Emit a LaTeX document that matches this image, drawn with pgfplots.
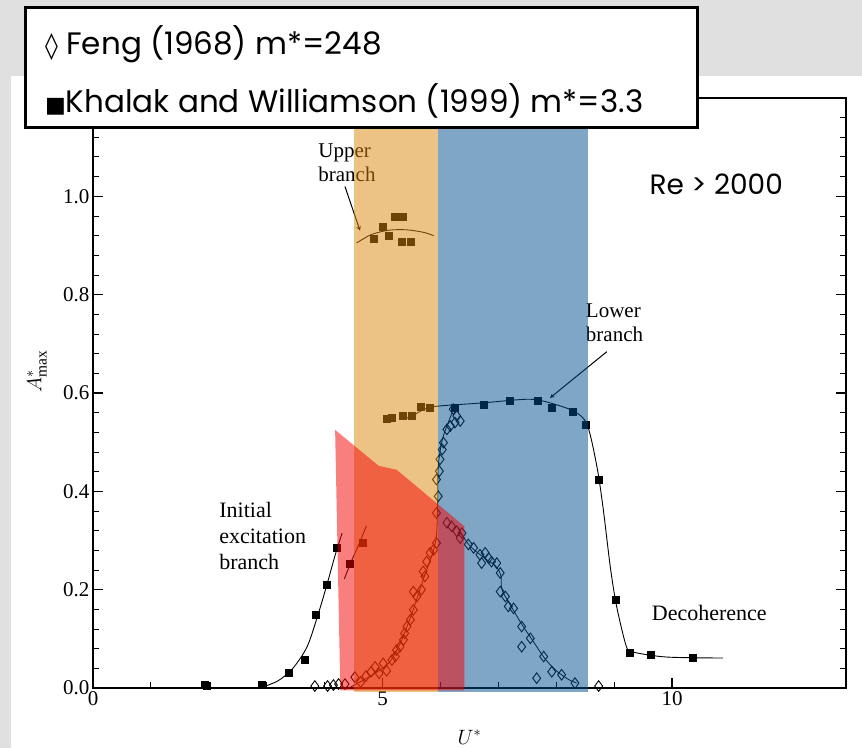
\documentclass[border=0pt]{standalone}
\usepackage{pgfplots}
\pgfplotsset{compat=1.18}
\usepackage{fontspec}
\setmainfont{Liberation Serif}
\newfontfamily\gothic{Poppins}
\newfontfamily\dejavu{DejaVu Sans}
\definecolor{bggray}{RGB}{224,224,224}
\definecolor{bandorange}{RGB}{218,136,10}
\definecolor{bandblue}{RGB}{0,78,138}
\definecolor{bandred}{RGB}{245,0,0}
\begin{document}
\begin{tikzpicture}
\fill[bggray] (0pt,0pt) rectangle (862pt,748pt);
\fill[white] (11pt,0pt) rectangle (862pt,672pt);
\begin{axis}[
  at={(93pt,60pt)}, anchor=south west, scale only axis,
  width=753pt, height=590pt,
  xmin=0, xmax=13, ymin=0, ymax=1.2,
  xtick={0,5,10}, ytick={0,0.2,0.4,0.6,0.8,1.0,1.2},
  yticklabels={0.0,0.2,0.4,0.6,0.8,1.0,{}},
  minor x tick num=4, minor y tick num=4,
  tick align=inside, major tick length=10pt, minor tick length=6pt,
  axis line style={line width=2.5pt},
  major tick style={line width=1.6pt, black},
  minor tick style={line width=1pt, black},
  /pgf/number format/assume math mode=true,
  tick label style={font=\fontsize{21}{24}\selectfont},
  xlabel={$U^*$}, ylabel={$A^*_{\max}$},
  xlabel style={at={(axis description cs:0.5,-0.083)}, anchor=center, font=\fontsize{22}{24}\selectfont},
  ylabel style={at={(axis description cs:-0.0744,0.536)}, anchor=center, font=\fontsize{22}{24}\selectfont},
  clip=false,
]
% Feng (1968) open diamonds
\addplot[only marks, mark=diamond, mark size=5.3pt, mark options={line width=0.9pt, black}] coordinates {
(3.83,0.004) (4.05,0.004) (4.15,0.006) (4.24,0.008) (4.35,0.008) (4.52,0.022) (4.62,0.012)
(4.71,0.024) (4.80,0.033) (4.87,0.043) (4.94,0.030) (5.01,0.050) (5.07,0.035) (5.16,0.057)
(5.22,0.064) (5.24,0.077) (5.30,0.084) (5.36,0.098) (5.38,0.111) (5.42,0.125) (5.48,0.139)
(5.53,0.159) (5.59,0.186) (5.53,0.196) (5.67,0.200) (5.73,0.227) (5.70,0.237) (5.76,0.257)
(5.82,0.275) (5.88,0.281) (5.93,0.295)
(5.93,0.356) (5.96,0.390) (5.93,0.424) (5.98,0.441) (5.99,0.465) (6.03,0.485) (6.05,0.499)
(6.11,0.526) (6.17,0.533) (6.25,0.540) (6.34,0.543) (6.28,0.553) (6.22,0.567)
(6.11,0.336) (6.19,0.329) (6.28,0.319) (6.37,0.315) (6.34,0.305) (6.48,0.292) (6.57,0.285)
(6.68,0.271) (6.77,0.275) (6.71,0.254) (6.83,0.264) (6.88,0.257) (6.97,0.254) (7.03,0.234)
(7.03,0.196) (7.12,0.186) (7.17,0.166) (7.26,0.162) (7.40,0.125) (7.55,0.101) (7.40,0.084)
(7.78,0.064) (7.66,0.020) (7.92,0.033) (8.09,0.027) (8.32,0.010) (8.73,0.004)
};
% Feng curves
\addplot[black, line width=0.8pt, smooth, tension=0.5] coordinates {
(4.45,0.002) (4.8,0.025) (5.1,0.05) (5.3,0.09) (5.5,0.15) (5.7,0.22) (5.85,0.27) (5.93,0.31)
(5.95,0.38) (5.96,0.45) (6.02,0.50) (6.10,0.53) (6.20,0.56)
};
\addplot[black, line width=0.8pt, smooth, tension=0.5] coordinates {
(6.3,0.325) (6.5,0.29) (6.75,0.265) (6.95,0.248) (7.04,0.23) (7.06,0.20) (7.2,0.17) (7.4,0.13)
(7.6,0.095) (7.8,0.06) (8.0,0.035) (8.2,0.018) (8.35,0.01)
};
% Khalak & Williamson filled squares
\addplot[only marks, mark=square*, mark size=3.5pt, black] coordinates {
(1.93,0.006) (1.97,0.004) (2.91,0.006) (3.38,0.031) (3.65,0.057) (3.85,0.149) (4.03,0.210)
(4.21,0.285) (4.43,0.253) (4.66,0.296)
(4.84,0.913) (5.00,0.938) (5.10,0.920) (5.20,0.958) (5.34,0.958) (5.33,0.907) (5.49,0.907)
(5.07,0.548) (5.16,0.550) (5.35,0.553) (5.50,0.553) (5.65,0.572) (5.82,0.570)
(6.25,0.570) (6.74,0.577) (7.20,0.585) (7.68,0.585) (7.92,0.570) (8.28,0.562) (8.51,0.536)
(8.73,0.424) (9.03,0.179) (9.27,0.071) (9.62,0.067) (10.36,0.062)
};
% Khalak & Williamson curves
\addplot[black, line width=0.9pt, smooth, tension=0.5] coordinates {
(2.93,0.002) (3.2,0.015) (3.45,0.04) (3.7,0.085) (3.9,0.155) (4.05,0.215) (4.18,0.27) (4.3,0.315)
};
\addplot[black, line width=0.9pt, smooth, tension=0.5] coordinates {
(4.34,0.222) (4.45,0.255) (4.6,0.295) (4.72,0.33)
};
\addplot[black, line width=0.9pt, smooth, tension=0.5] coordinates {
(4.55,0.905) (4.8,0.922) (5.1,0.931) (5.4,0.932) (5.7,0.927) (5.88,0.92)
};
\addplot[black, line width=0.9pt, smooth, tension=0.5] coordinates {
(5.4,0.548) (5.55,0.556) (5.7,0.566) (5.93,0.573) (6.74,0.58) (7.3,0.586) (7.6,0.587)
(7.89,0.58) (8.3,0.563) (8.53,0.536) (8.7,0.45) (8.81,0.363) (8.93,0.247) (9.04,0.166)
(9.21,0.084) (9.33,0.073) (9.9,0.063) (10.88,0.061)
};
% annotations
\draw[-stealth, line width=1pt] (axis cs:4.35,1.02) -- (axis cs:4.61,0.93);
\draw[-stealth, line width=1pt] (axis cs:8.87,0.684) -- (axis cs:7.89,0.59);
\node[anchor=west, align=left, font=\fontsize{22}{26}\selectfont] at (axis cs:2.12,0.31) {Initial\\excitation\\branch};
\node[anchor=west, align=left, font=\fontsize{21}{24}\selectfont] at (axis cs:3.83,1.068) {Upper\\branch};
\node[anchor=west, align=left, font=\fontsize{21}{24}\selectfont] at (axis cs:8.45,0.742) {Lower\\branch};
\node[font=\fontsize{22}{26}\selectfont] at (axis cs:10.64,0.153) {Decoherence};
\node[font=\gothic\fontsize{28}{30}\selectfont] at (axis cs:10.76,1.025) {Re > 2000};
\end{axis}
% overlay regions
\begin{axis}[
  at={(93pt,60pt)}, anchor=south west, scale only axis,
  width=753pt, height=590pt,
  xmin=0, xmax=13, ymin=0, ymax=1.2, hide axis, clip=false,
]
\addplot[draw=none, fill=bandorange, fill opacity=0.5] coordinates {(4.51,-0.008) (5.95,-0.008) (5.95,1.2) (4.51,1.2)} -- cycle;
\addplot[draw=none, fill=bandblue, fill opacity=0.5] coordinates {(5.95,-0.008) (8.55,-0.008) (8.55,1.2) (5.95,1.2)} -- cycle;
\addplot[draw=none, fill=bandred, fill opacity=0.5] coordinates {(4.18,0.525) (4.93,0.452) (5.24,0.444) (6.41,0.329) (6.41,-0.005) (4.27,-0.005)} -- cycle;
\end{axis}
% legend box
\draw[line width=3pt, fill=white] (25pt,620pt) rectangle (697pt,740pt);
\node[anchor=base west, font=\gothic\fontsize{31}{33}\selectfont, inner sep=0pt] at (45pt,693pt) {{\dejavu\fontsize{26}{28}\selectfont ◊} Feng (1968) m*=248};
\node[anchor=base west, font=\gothic\fontsize{31}{33}\selectfont, inner sep=0pt] at (45pt,635pt) {{\dejavu\fontsize{22}{24}\selectfont ■}Khalak and Williamson (1999) m*=3.3};
\pgfresetboundingbox
\path (0pt,0pt) rectangle (862pt,748pt);
\end{tikzpicture}
\end{document}
